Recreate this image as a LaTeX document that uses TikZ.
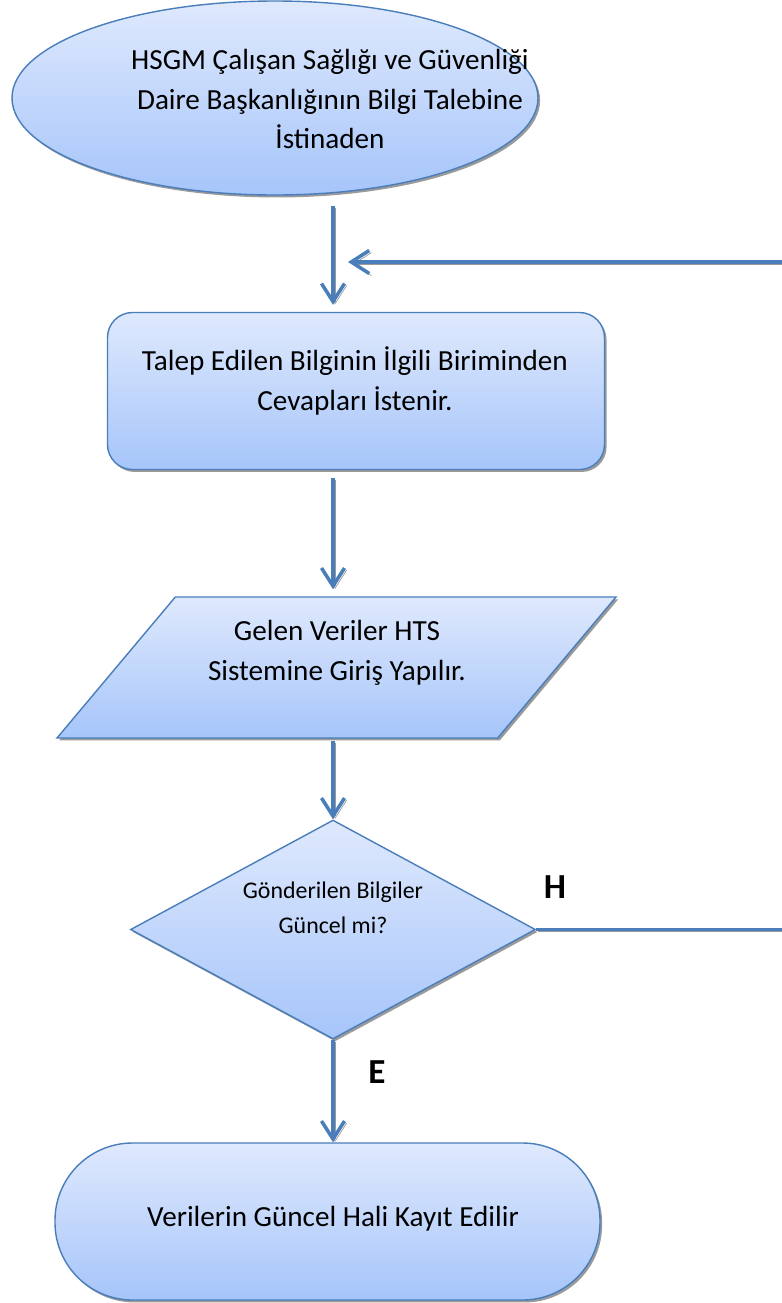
\documentclass[tikz,border=0pt]{standalone}
\usepackage{fontspec}
\setmainfont{Carlito}
\usepackage{tikz}
\usetikzlibrary{positioning,arrows.meta,shapes.geometric,shadows,calc}
\definecolor{FlowBlue}{HTML}{4A7EBB}
\definecolor{FillTop}{HTML}{DFE9FD}
\definecolor{FillBottom}{HTML}{A6C5FA}
\definecolor{ShadowGray}{HTML}{9A9A9A}

\begin{document}
\begin{tikzpicture}[
  x=0.2mm, y=-0.2mm,
  shapebox/.style={draw=FlowBlue,line width=0.8pt,top color=FillTop,bottom color=FillBottom,inner sep=2pt,
    drop shadow={shadow xshift=1.2pt,shadow yshift=-1.4pt,fill=ShadowGray,opacity=1}},
  txt/.style={align=center,font=\fontsize{16.6}{22.7}\selectfont},
  smalltxt/.style={align=center,font=\fontsize{13.6}{19.8}\selectfont},
  yesno/.style={font=\fontsize{20}{24}\selectfont\bfseries},
  conn/.style={draw=FlowBlue,line width=2pt,preaction={draw=ShadowGray,transform canvas={shift={(1.2pt,-1.2pt)}}}},
  arr/.style={conn,-{Straight Barb[length=3.6mm,width=4.6mm]}}
]
\path[fill=white,use as bounding box] (0,0) rectangle (782,1303);

% shapes
\node[shapebox,ellipse,minimum width=105.2mm,minimum height=38.8mm] (ell) at (275,98) {};
\node[shapebox,rectangle,rounded corners=5mm,minimum width=99.4mm,minimum height=31.4mm] (rect) at (356,391) {};
\node[shapebox,trapezium,trapezium left angle=50,trapezium right angle=130,trapezium stretches body=true,
  inner sep=0pt,minimum width=111.8mm] (para) at (336.5,667.5) {\rule{0pt}{28.2mm}};
\node[shapebox,diamond,minimum width=81mm,minimum height=43.8mm] (dia) at (333,929.5) {};
\node[shapebox,rectangle,rounded corners=15.5mm,minimum width=109mm,minimum height=31.4mm] (stad) at (327.5,1221.5) {};

% texts
\node[txt] (elltext) at (330,99) {HSGM Çalışan Sağlığı ve Güvenliği\\Daire Başkanlığının Bilgi Talebine\\İstinaden};
\node[txt] (recttext) at (355,381) {Talep Edilen Bilginin İlgili Biriminden\\Cevapları İstenir.};
\node[txt] (paratext) at (337,653) {Gelen Veriler HTS\\Sistemine Giriş Yapılır.};
\node[smalltxt] (diatext) at (333,908) {Gönderilen Bilgiler\\Güncel mi?};
\node[txt] (stadtext) at (333,1219) {Verilerin Güncel Hali Kayıt Edilir};
\node[yesno] (hlabel) at (555,887) {H};
\node[yesno] (elabel) at (377,1072) {E};

% loop ends
\coordinate (loopb) at (790,929.5);
\coordinate (loopt) at (790,262);
\coordinate (join) at (333,262);

% connectors
\draw[arr,shorten <=2mm,shorten >=1.4mm] (ell.south -| dia.north) -- (rect.north -| dia.north);
\draw[arr,shorten <=1.6mm,shorten >=1.4mm] (rect.south -| dia.north) -- (para.north -| dia.north);
\draw[arr,shorten <=0.4mm] (para.south -| dia.north) -- (dia.north);
\draw[arr] (dia.south) -- (stad.north -| dia.south);
\draw[conn] (dia.east) -- (loopb);
\draw[arr,shorten >=3mm] (loopt) -- (join);
\end{tikzpicture}
\end{document}
